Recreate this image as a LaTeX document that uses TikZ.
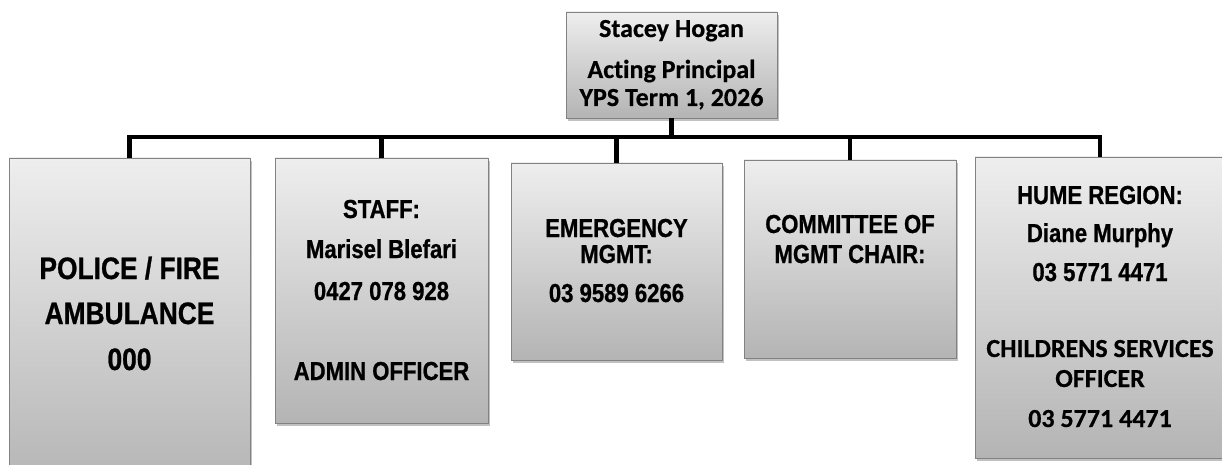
\documentclass[tikz,border=0pt]{standalone}
\usepackage{fontspec}
\setmainfont{Liberation Sans}
\newfontfamily\narrowfont[FakeStretch=0.85, BoldFeatures={FakeBold=0.8}]{Liberation Sans}
\newfontfamily\calfont[Ligatures=NoCommon, BoldFeatures={FakeBold=0.5}]{Carlito}
\usetikzlibrary{shadows}
\definecolor{boxtop}{RGB}{238,238,238}
\definecolor{boxbot}{RGB}{180,180,180}
\definecolor{boxedge}{RGB}{130,130,130}
\begin{document}
\begin{tikzpicture}[x=1pt,y=-1pt,
  box/.style={draw=boxedge, line width=0.8pt, top color=boxtop, bottom color=boxbot,
    inner sep=0pt, outer sep=0pt,
    drop shadow={shadow xshift=2pt, shadow yshift=-3pt, opacity=0.35, fill=black!70}},
  conn/.style={line width=4.5pt, draw=black},
  narrowtxt/.style={anchor=base, inner sep=0pt, font=\narrowfont\bfseries\fontsize{26}{30}\selectfont},
  bigtxt/.style={anchor=base, inner sep=0pt, font=\narrowfont\bfseries\fontsize{31}{36}\selectfont},
  caltxt/.style={anchor=base, inner sep=0pt, font=\calfont\bfseries\fontsize{26}{30}\selectfont}]
\useasboundingbox (0,0) rectangle (1222,465);

% boxes
\node[box, minimum width=211pt, minimum height=106pt] (top) at (671.5,65) {};
\node[box, minimum width=241pt, minimum height=332pt] (police) at (129.5,324) {};
\node[box, minimum width=213pt, minimum height=265pt] (staff) at (381.5,290.5) {};
\node[box, minimum width=211pt, minimum height=197pt] (emerg) at (616.5,261.5) {};
\node[box, minimum width=212pt, minimum height=198pt] (comm) at (850,259) {};
\node[box, minimum width=250pt, minimum height=301pt] (hume) at (1100,307.5) {};

% connectors
\coordinate (bar) at (671.5,137);
\draw[conn] (top.south) -- (bar);
\draw[conn] (police.north) |- (bar) -| (hume.north);
\draw[conn] (staff.north) -- (staff.north |- bar);
\draw[conn] (emerg.north) -- (emerg.north |- bar);
\draw[conn] (comm.north) -- (comm.north |- bar);

% texts
\node[caltxt] (t1) at (671.5,37) {Stacey Hogan};
\node[caltxt] (t2) at (671.5,78) {Acting Principal};
\node[caltxt] (t3) at (671.5,106) {YPS Term 1, 2026};

\node[bigtxt] (p1) at (129.5,279) {POLICE / FIRE};
\node[bigtxt] (p2) at (129.5,324) {AMBULANCE};
\node[bigtxt] (p3) at (129.5,370) {000};

\node[narrowtxt] (s1) at (381.5,218) {STAFF:};
\node[narrowtxt] (s2) at (381.5,258) {Marisel Blefari};
\node[narrowtxt] (s3) at (381.5,300) {0427 078 928};
\node[narrowtxt] (s4) at (381.5,380) {ADMIN OFFICER};

\node[narrowtxt] (e1) at (616.5,237) {EMERGENCY};
\node[narrowtxt] (e2) at (616.5,263) {MGMT:};
\node[narrowtxt] (e3) at (616.5,302) {03 9589 6266};

\node[narrowtxt] (c1) at (850,233) {COMMITTEE OF};
\node[narrowtxt] (c2) at (850,263) {MGMT CHAIR:};

\node[narrowtxt] (h1) at (1100,204) {HUME REGION:};
\node[narrowtxt] (h2) at (1100,242) {Diane Murphy};
\node[narrowtxt] (h3) at (1100,281) {03 5771 4471};
\node[caltxt] (h4) at (1100,357) {CHILDRENS SERVICES};
\node[caltxt] (h5) at (1100,387) {OFFICER};
\node[caltxt] (h6) at (1100,427) {03 5771 4471};
\end{tikzpicture}
\end{document}
